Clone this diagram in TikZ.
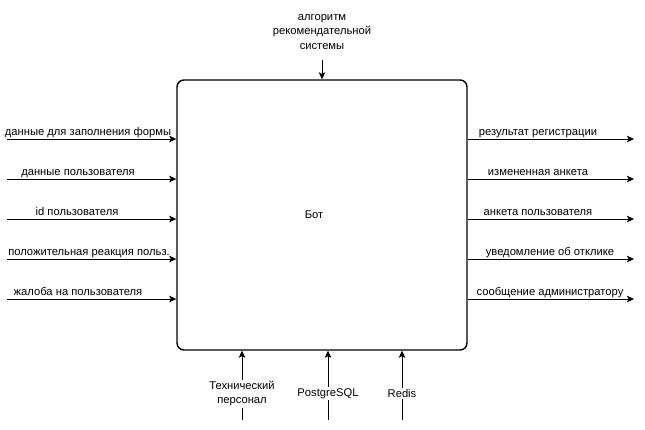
\documentclass[tikz,border=0pt]{standalone}
\usepackage{fontspec}
\setmainfont{Liberation Sans}
\usetikzlibrary{arrows,arrows.meta,positioning}
\tikzset{font=\fontsize{11.2}{14.5}\selectfont}
\tikzstyle{blok}=[draw,line width=1.4pt,rounded corners=7pt,minimum width=290pt,minimum height=270pt,inner sep=0pt]
\tikzstyle{lbl}=[inner sep=1pt,anchor=base]
\tikzstyle{mech}=[fill=white,inner sep=1.5pt,align=center]
\begin{document}
\begin{tikzpicture}[x=1pt,y=-1pt,line width=0.8pt]
\useasboundingbox (0,0) rectangle (645,429);
\node[blok] (bot) at (322,215) {};
\node (name) at (314,215) {Бот};
% inputs
\coordinate (i1) at (7,139);
\coordinate (i2) at (7,179);
\coordinate (i3) at (7,219);
\coordinate (i4) at (7,259);
\coordinate (i5) at (7,299);
\node[lbl] (li1) at (88,135) {данные для заполнения формы};
\node[lbl] (li2) at (78,175) {данные пользователя};
\node[lbl] (li3) at (77,215) {id пользователя};
\node[lbl] (li4) at (89,255) {положительная реакция польз.};
\node[lbl] (li5) at (78,295) {жалоба на пользователя};
% outputs
\coordinate (o1) at (634,139);
\coordinate (o2) at (634,179);
\coordinate (o3) at (634,219);
\coordinate (o4) at (634,259);
\coordinate (o5) at (634,299);
\node[lbl] (lo1) at (538,135) {результат регистрации};
\node[lbl] (lo2) at (538,175) {измененная анкета};
\node[lbl] (lo3) at (538,215) {анкета пользователя};
\node[lbl] (lo4) at (550,255) {уведомление об отклике};
\node[lbl] (lo5) at (550,295) {сообщение администратору};
% control
\node[align=center] (ctl) at (322,32) {алгоритм\\рекомендательной\\системы};
% mechanisms
\coordinate (m1) at (242,420);
\coordinate (m2) at (328,420);
\coordinate (m3) at (402,420);
\path[->,>={Stealth[length=7pt,width=6.5pt,inset=1.5pt]}]
(i1) edge (i1 -| bot.west)
(i2) edge (i2 -| bot.west)
(i3) edge (i3 -| bot.west)
(i4) edge (i4 -| bot.west)
(i5) edge (i5 -| bot.west)
(o1 -| bot.east) edge (o1)
(o2 -| bot.east) edge (o2)
(o3 -| bot.east) edge (o3)
(o4 -| bot.east) edge (o4)
(o5 -| bot.east) edge (o5)
(ctl.south |- 0,60) edge (ctl.south |- bot.north)
(m1) edge node[mech,pos=0.38] {Технический\\персонал} (m1 |- bot.south)
(m2) edge node[mech,pos=0.38] {PostgreSQL} (m2 |- bot.south)
(m3) edge node[mech,pos=0.38] {Redis} (m3 |- bot.south);
\end{tikzpicture}
\end{document}
